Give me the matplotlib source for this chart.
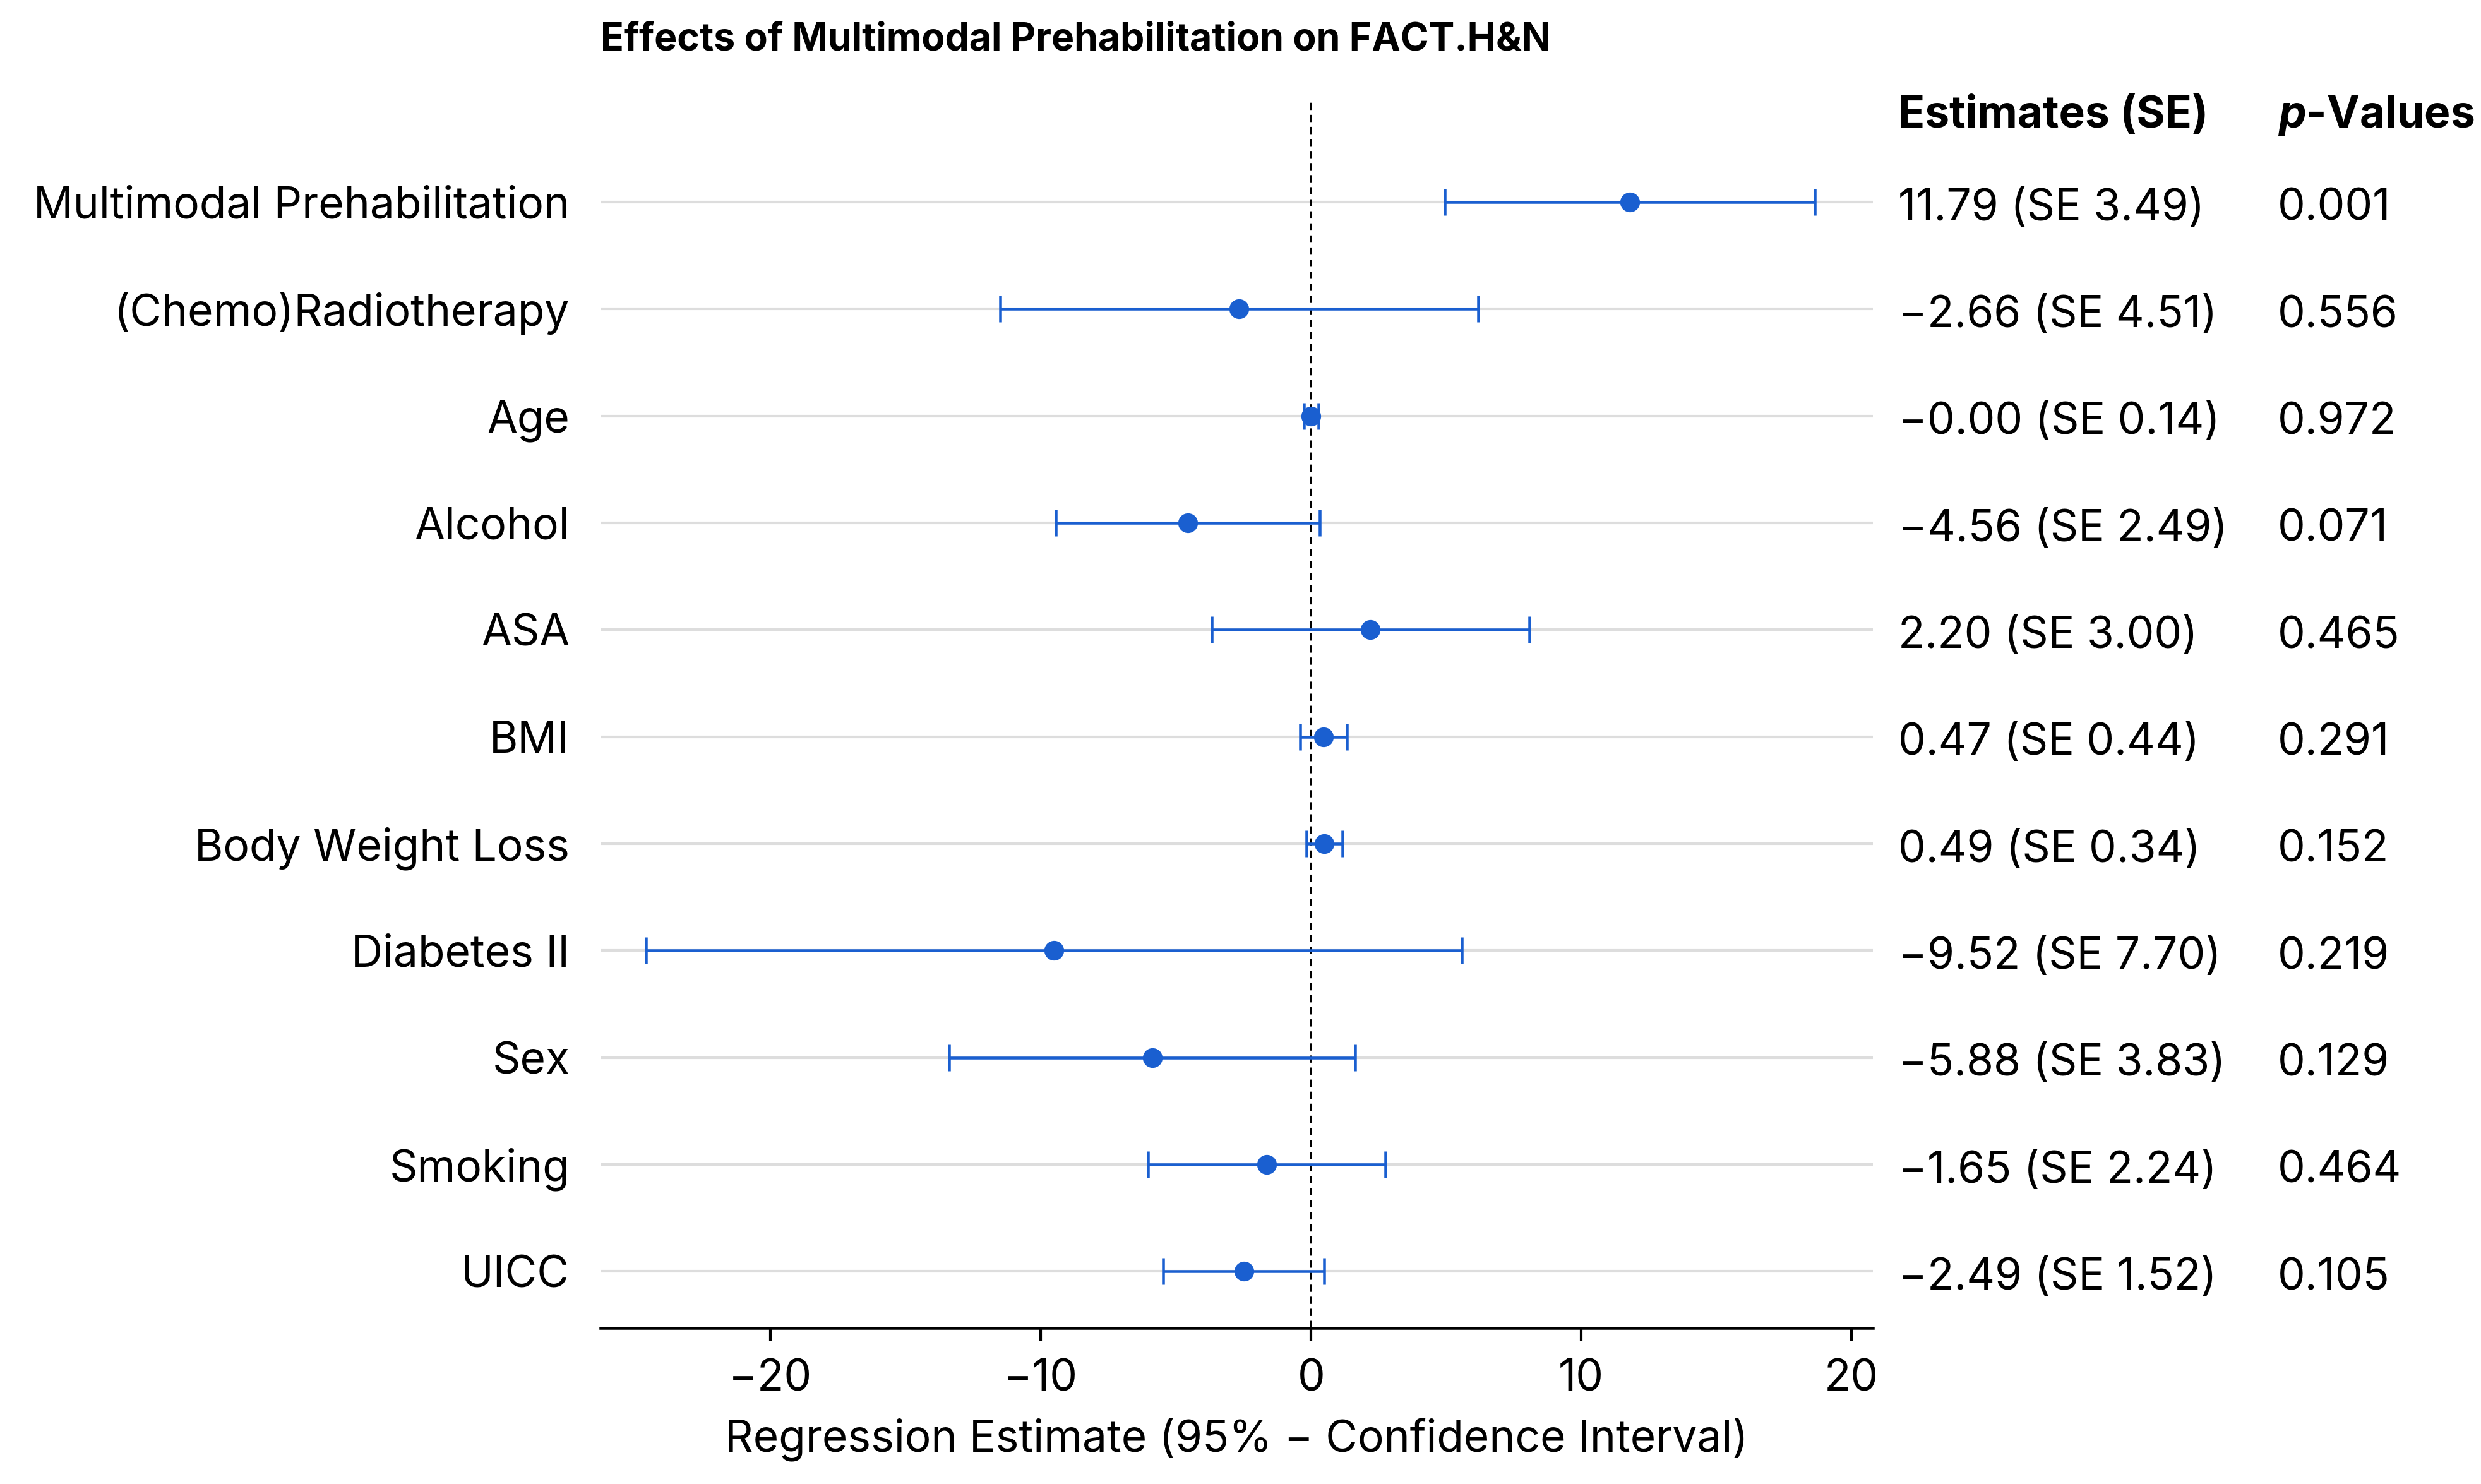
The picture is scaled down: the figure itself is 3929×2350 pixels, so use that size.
import matplotlib
matplotlib.use("Agg")
import matplotlib.pyplot as plt
import matplotlib.transforms as mtrans

plt.rcParams['font.family'] = ['Inter', 'DejaVu Sans']
plt.rcParams['mathtext.fontset'] = 'custom'
plt.rcParams['mathtext.bfit'] = 'Inter:italic:bold'

labels = ["Multimodal Prehabilitation", "(Chemo)Radiotherapy", "Age", "Alcohol", "ASA", "BMI",
          "Body Weight Loss", "Diabetes II", "Sex", "Smoking", "UICC"]
est = [11.79, -2.66, -0.00, -4.56, 2.20, 0.47, 0.49, -9.52, -5.88, -1.65, -2.49]
se = [3.49, 4.51, 0.14, 2.49, 3.00, 0.44, 0.34, 7.70, 3.83, 2.24, 1.52]
est_txt = ["11.79 (SE 3.49)", "\u22122.66 (SE 4.51)", "\u22120.00 (SE 0.14)", "\u22124.56 (SE 2.49)",
           "2.20 (SE 3.00)", "0.47 (SE 0.44)", "0.49 (SE 0.34)", "\u22129.52 (SE 7.70)",
           "\u22125.88 (SE 3.83)", "\u22121.65 (SE 2.24)", "\u22122.49 (SE 1.52)"]
pvals = ["0.001", "0.556", "0.972", "0.071", "0.465", "0.291", "0.152", "0.219", "0.129", "0.464", "0.105"]

fs = 20
fig = plt.figure(figsize=(15.716, 9.4), dpi=250)
ax = fig.add_axes([0.242, 0.105, 0.513, 0.828])
color = "#1a5fd0"
ys = list(range(len(labels)))
for y in ys:
    ax.axhline(y, color="#dddddd", lw=1.2, zorder=0)
xerr = [1.96 * s for s in se]
ax.errorbar(est, ys, xerr=xerr, fmt='o', color=color, ms=8, capsize=6, elinewidth=1.3, capthick=1.3, zorder=3)
ax.axvline(0, color="black", ls=(0, (3, 2)), lw=1.1, zorder=2)
ax.set_xlim(-26.3, 20.8)
ax.set_ylim(10.53, -0.96)
ax.set_yticks(ys)
ax.set_yticklabels(labels, fontsize=fs)
ax.set_xticks([-20, -10, 0, 10, 20])
ax.set_xticklabels(["\u221220", "\u221210", "0", "10", "20"], fontsize=fs)
ax.tick_params(axis='y', length=0, pad=14)
ax.tick_params(axis='x', length=6, width=1.2, pad=8)
for s in ["top", "right", "left"]:
    ax.spines[s].set_visible(False)
ax.spines["bottom"].set_linewidth(1.3)
ax.set_xlabel("Regression Estimate (95% \u2212 Confidence Interval)", fontsize=fs, labelpad=8)

tr = mtrans.blended_transform_factory(fig.transFigure, ax.transData)
for y, t, p in zip(ys, est_txt, pvals):
    ax.text(0.765, y + 0.06, t, transform=tr, fontsize=fs, va='center', ha='left')
    ax.text(0.918, y + 0.06, p, transform=tr, fontsize=fs, va='center', ha='left')

fig.text(0.765, 0.922, "Estimates (SE)", fontsize=fs, fontweight='bold', va='center')
fig.text(0.918, 0.922, r"$\mathbfit{p}$" + "-Values", fontsize=fs, fontweight='bold', va='center')
fig.text(0.242, 0.973, "Effects of Multimodal Prehabilitation on FACT.H&N", fontsize=17.5, fontweight='bold', va='center')
fig.savefig("out.png", dpi=250)
